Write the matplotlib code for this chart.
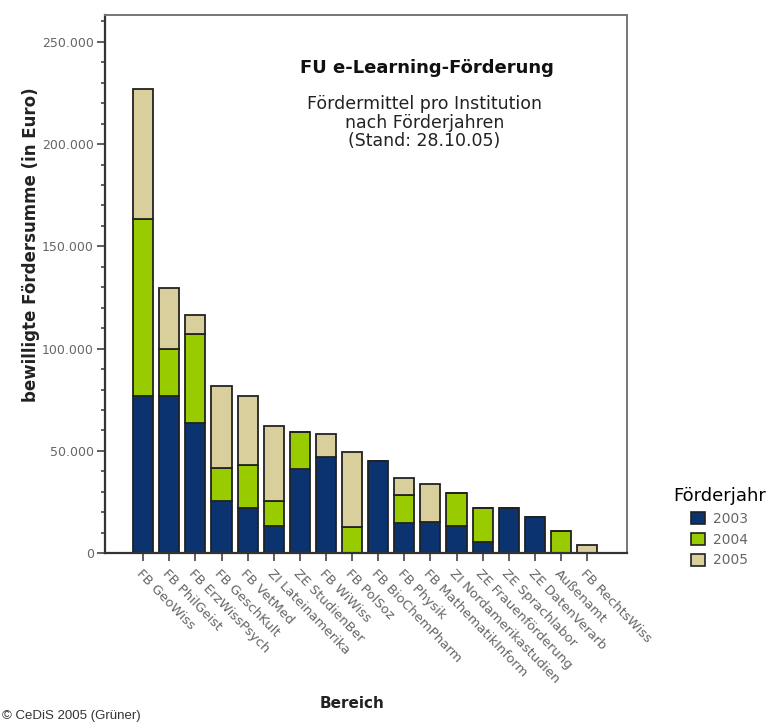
import matplotlib
matplotlib.use('Agg')
import matplotlib.pyplot as plt
from matplotlib.ticker import MultipleLocator, FuncFormatter
from matplotlib.patches import Patch
import numpy as np

# Fördermittel je Institution (Euro), aufgeteilt nach Förderjahr
bereiche = ['FB GeoWiss', 'FB PhilGeist', 'FB ErzWissPsych', 'FB GeschKult',
            'FB VetMed', 'ZI Lateinamerika', 'ZE StudienBer', 'FB WiWiss',
            'FB PolSoz', 'FB BioChemPharm', 'FB Physik', 'FB MathematikInform',
            'ZI Nordamerikastudien', 'ZE Frauenförderung', 'ZE Sprachlabor',
            'ZE DatenVerarb', 'Außenamt', 'FB RechtsWiss']
jahre = ['2003', '2004', '2005']
f2003 = [77000, 77000, 63400, 25600, 22200, 13400, 41100, 47000, 0,
         45000, 14700, 15300, 13400, 5700, 21900, 17800, 0, 0]
f2004 = [86500, 23000, 43600, 16100, 20700, 11900, 18200, 0, 12700,
         0, 13500, 0, 16100, 16200, 0, 0, 10800, 0]
f2005 = [63500, 29500, 9600, 40000, 33900, 36800, 0, 11200, 36900,
         0, 8600, 18500, 0, 0, 0, 0, 0, 3900]

farben = ['#0b3370', '#99cc00', '#d8cf9d']
grau = '#666666'

fig = plt.figure(figsize=(7.78, 7.25), dpi=100)
ax = fig.add_axes([0.135, 0.237, 0.671, 0.742])

x = np.arange(len(bereiche))
unten = np.zeros(len(bereiche))
for werte, farbe in zip([f2003, f2004, f2005], farben):
    werte = np.array(werte, dtype=float)
    ax.bar(x, werte, width=0.77, bottom=unten, color=farbe,
           edgecolor='#222222', linewidth=1.3)
    unten += werte

ax.set_xlim(-1.46, len(bereiche) + 0.53)
ax.set_ylim(0, 263000)
ax.yaxis.set_major_locator(MultipleLocator(50000))
ax.yaxis.set_minor_locator(MultipleLocator(10000))
ax.yaxis.set_major_formatter(FuncFormatter(lambda v, p: f'{int(v):,}'.replace(',', '.')))

ax.set_xticks(x)
ax.set_xticklabels(bereiche, rotation=-46, ha='left', va='top',
                   rotation_mode='anchor', color=grau, fontsize=9.5)
for lbl in ax.get_yticklabels():
    lbl.set_color(grau)
    lbl.set_fontsize(9)

ax.tick_params(axis='both', which='major', direction='out', length=6,
               width=1.2, color='#444444', pad=2)
ax.tick_params(axis='y', which='minor', direction='out', length=3,
               width=1.2, color='#444444')
ax.tick_params(axis='x', which='major', pad=4)

for s in ['left', 'bottom']:
    ax.spines[s].set_color('#333333')
    ax.spines[s].set_linewidth(1.6)
for s in ['top', 'right']:
    ax.spines[s].set_color('#777777')
    ax.spines[s].set_linewidth(1.4)

fig.text(0.04, 0.662, 'bewilligte Fördersumme (in Euro)', fontsize=12,
         fontweight='bold', color='#222222', rotation=90,
         ha='center', va='center')
fig.text(0.452, 0.03, 'Bereich', fontsize=11, fontweight='bold',
         color='#222222', ha='center', va='center')

ax.text(0.617, 0.901, 'FU e-Learning-Förderung', transform=ax.transAxes,
        fontsize=13, fontweight='bold', ha='center', va='center', color='#111111')
ax.text(0.612, 0.852, 'Fördermittel pro Institution\nnach Förderjahren\n(Stand: 28.10.05)',
        transform=ax.transAxes, fontsize=12.5, ha='center', va='top',
        color='#222222', linespacing=1.05)

fig.text(0.002, 0.012, '© CeDiS 2005 (Grüner)', fontsize=9.5, color='#333333',
         family='Liberation Sans', ha='left', va='center')

griffe = [Patch(facecolor=f, edgecolor='#222222', linewidth=1.2) for f in farben]
fig.legend(griffe, jahre, title='Förderjahr', loc='center',
           bbox_to_anchor=(0.925, 0.273), frameon=False, fontsize=10,
           title_fontsize=13, handlelength=1.0, handleheight=1.0,
           handletextpad=0.6, labelspacing=0.5, labelcolor=grau)

fig.savefig('out.png', dpi=100)
